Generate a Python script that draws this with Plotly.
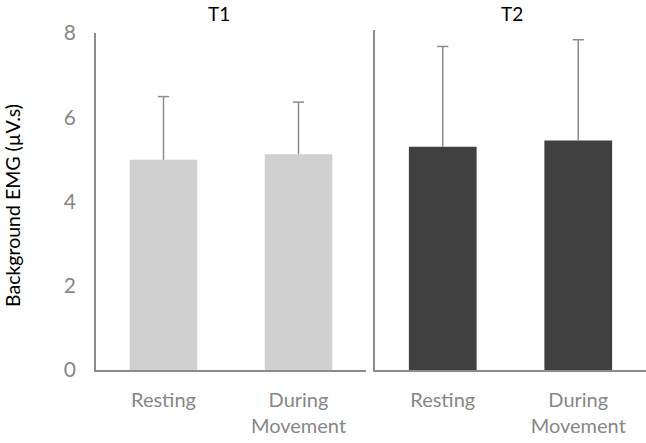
import plotly.graph_objects as go

categories = ["Resting", "During<br>Movement"]
t1_mean = [4.99, 5.12]
t1_err = [1.50, 1.24]
t2_mean = [5.30, 5.45]
t2_err = [2.38, 2.39]
y_ticks = [0, 2, 4, 6, 8]

W, H = 646, 443
FONT = "Lato, Open Sans, sans-serif"
ERR_COLOR = "#8c8c8c"
fig = go.Figure()


def add_panel(means, errs, color, xa, ya):
    fig.add_trace(go.Bar(
        x=categories, y=means, xaxis=xa, yaxis=ya,
        marker=dict(color=color, line=dict(width=0)),
        width=0.5, showlegend=False, hoverinfo="skip",
    ))
    # upward-only error whiskers
    ex, ey = [], []
    for c, m, e in zip(categories, means, errs):
        ex += [c, c, None]
        ey += [m, m + e, None]
    fig.add_trace(go.Scatter(
        x=ex, y=ey, xaxis=xa, yaxis=ya, mode="lines",
        line=dict(color=ERR_COLOR, width=1.5), showlegend=False, hoverinfo="skip",
    ))
    fig.add_trace(go.Scatter(
        x=categories, y=[m + e for m, e in zip(means, errs)], xaxis=xa, yaxis=ya,
        mode="markers",
        marker=dict(symbol="line-ew", size=8, line=dict(color=ERR_COLOR, width=1.5)),
        showlegend=False, hoverinfo="skip",
    ))


add_panel(t1_mean, t1_err, "#d0d0d0", "x", "y")
add_panel(t2_mean, t2_err, "#404040", "x2", "y2")

tick_font = dict(family=FONT, size=20, color="#878787")
y0 = (H - 370) / H
y1 = (H - 33) / H

fig.update_layout(
    width=W, height=H,
    margin=dict(l=0, r=0, t=0, b=0, autoexpand=False),
    paper_bgcolor="white", plot_bgcolor="white",
    xaxis=dict(domain=[96 / W, 366 / W], anchor="y", showline=True, linecolor=ERR_COLOR,
               linewidth=1.5, ticks="", tickfont=tick_font, showgrid=False, automargin=False,
               ticklabelstandoff=11, fixedrange=True),
    yaxis=dict(domain=[y0, y1], anchor="x", range=[0, 8], tickvals=y_ticks,
               showline=True, linecolor=ERR_COLOR, linewidth=1.5, showgrid=False,
               zeroline=False, ticks="", tickfont=dict(family=FONT, size=21, color="#878787"),
               ticklabelstandoff=14, automargin=False, fixedrange=True),
    xaxis2=dict(domain=[375 / W, 1.0], anchor="y2", showline=True, linecolor=ERR_COLOR,
                linewidth=1.5, ticks="", tickfont=tick_font, showgrid=False, automargin=False,
                ticklabelstandoff=11, fixedrange=True),
    yaxis2=dict(domain=[y0, (H - 30) / H], anchor="x2", range=[0, 8 * 340 / 337], tickvals=y_ticks,
                showline=True, linecolor=ERR_COLOR, linewidth=1.5, showgrid=False,
                zeroline=False, showticklabels=False, ticks="", automargin=False, fixedrange=True),
    annotations=[
        dict(text="T1", x=219 / W, y=(H - 13) / H, xref="paper", yref="paper",
             xanchor="center", yanchor="middle",
             showarrow=False, font=dict(family=FONT, size=19, color="black")),
        dict(text="T2", x=512 / W, y=(H - 13) / H, xref="paper", yref="paper",
             xanchor="center", yanchor="middle",
             showarrow=False, font=dict(family=FONT, size=19, color="black")),
        dict(text="Background EMG (µV.s)", x=13 / W, y=(H - 206) / H, xref="paper", yref="paper",
             xanchor="center", yanchor="middle", textangle=-90, showarrow=False,
             font=dict(family=FONT, size=19.5, color="black")),
    ],
)

fig.write_html("out.html", config={"displayModeBar": False},
               post_script="document.body.style.margin='0';")
